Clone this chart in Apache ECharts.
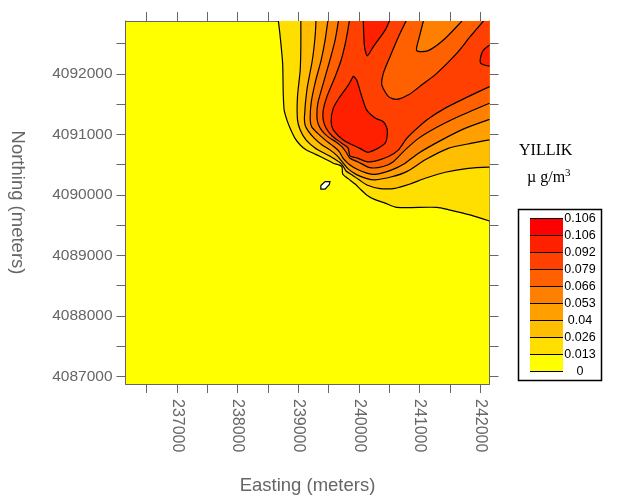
<!DOCTYPE html>
<html>
<head>
<meta charset="utf-8">
<title>YILLIK</title>
<style>
  html, body { margin: 0; padding: 0; background: #fff; }
  #char { width: 633px; height: 502px; }
</style>
<script src="https://cdn.jsdelivr.net/npm/echarts@6/dist/echarts.min.js"></script>
</head>
<body>
<div id="char"></div>
<script>
// axis ranges and ticks, metres
const eastMin = 236150
const eastMax = 242150
const northMin = 4086875
const northMax = 4092875
const eastTicks = [236500, 237000, 237500, 238000, 238500, 239000, 239500, 240000, 240500, 241000, 241500, 242000]
const eastLabels = [237000, 238000, 239000, 240000, 241000, 242000]
const northTicks = [4087000, 4087500, 4088000, 4088500, 4089000, 4089500, 4090000, 4090500, 4091000, 4091500, 4092000, 4092500]
const northLabels = [4087000, 4088000, 4089000, 4090000, 4091000, 4092000]

// contour lines, [easting, northing]
const level1 = [[238670,4092875],[238700,4092615],[238740,4092175],[238750,4091680],[238765,4091405],[238810,4091240],[238865,4091100],[238945,4090935],[239030,4090825],[239125,4090745],[239245,4090690],[239360,4090635],[239440,4090595],[239575,4090525],[239715,4090470],[239730,4090345],[239825,4090265],[239935,4090180],[240015,4090100],[240125,4090000],[240235,4089935],[240430,4089865],[240620,4089795],[241280,4089795],[241500,4089750],[241830,4089670],[242150,4089570]]
const level2 = [[239040,4092875],[239040,4092450],[239030,4092065],[238985,4091625],[238985,4091240],[239030,4091075],[239125,4090910],[239275,4090775],[239405,4090700],[239555,4090620],[239685,4090535],[239745,4090465],[239785,4090395],[239885,4090330],[240000,4090250],[240130,4090165],[240345,4090105],[240595,4090110],[240840,4090180],[241090,4090275],[241420,4090375],[241800,4090440],[242150,4090460]]
const level3 = [[239290,4092875],[239275,4092615],[239230,4092230],[239140,4091735],[239100,4091295],[239110,4091155],[239160,4091060],[239260,4090940],[239390,4090825],[239520,4090745],[239640,4090645],[239735,4090530],[239820,4090430],[239950,4090340],[240115,4090275],[240265,4090250],[240540,4090300],[240785,4090385],[241090,4090580],[241470,4090770],[241860,4090855],[242150,4090910]]
const level4 = [[239485,4092875],[239440,4092560],[239375,4092230],[239275,4091850],[239210,4091520],[239195,4091240],[239220,4091125],[239310,4091025],[239440,4090910],[239570,4090810],[239670,4090720],[239745,4090595],[239850,4090495],[239985,4090415],[240115,4090365],[240265,4090340],[240540,4090415],[240760,4090525],[240980,4090690],[241365,4090910],[241745,4091100],[242150,4091250]]
const level5 = [[239660,4092875],[239605,4092560],[239520,4092230],[239410,4091845],[239320,4091515],[239305,4091295],[239325,4091175],[239390,4091060],[239490,4090960],[239620,4090875],[239720,4090795],[239785,4090710],[239850,4090605],[239985,4090545],[240180,4090450],[240400,4090470],[240565,4090550],[240760,4090745],[240980,4090935],[241305,4091130],[241695,4091320],[242150,4091515]]
const level5Notch = [[241695,4092875],[241390,4092560],[241140,4092385],[240950,4092385],[240995,4092615],[241060,4092875]]
const level6 = [[239840,4092875],[239785,4092560],[239705,4092230],[239605,4091955],[239470,4091625],[239410,4091405],[239410,4091240],[239455,4091105],[239555,4090975],[239715,4090855],[239820,4090775],[239850,4090645],[239985,4090605],[240125,4090550],[240265,4090560],[240485,4090635],[240650,4090745],[240785,4090935],[240895,4091045],[241115,4091240],[241420,4091435],[241800,4091625],[242150,4091790]]
const level6Hole = [[242050,4092875],[241830,4092615],[241610,4092340],[241280,4092010],[241035,4091820],[240815,4091655],[240620,4091580],[240485,4091625],[240375,4091820],[240400,4092010],[240510,4092285],[240650,4092615],[240775,4092875]]
const level7Peak = [[239905,4091965],[239825,4091820],[239685,4091625],[239575,4091435],[239540,4091210],[239575,4091075],[239740,4090910],[240015,4090770],[240155,4090705],[240430,4090855],[240465,4091075],[240400,4091210],[240265,4091270],[240125,4091405],[240045,4091625],[239960,4091900]]
const level7Top = [[240070,4092875],[240090,4092450],[240135,4092300],[240235,4092450],[240430,4092725],[240500,4092875]]
const level7Right = [[242150,4092480],[242050,4092395],[242005,4092285],[242005,4092175],[242150,4092130]]
const sourceMark = [[239370,4090155],[239440,4090220],[239520,4090220],[239510,4090175],[239440,4090095],[239370,4090095]]

// legend, top to bottom
const legendLabels = ['0.106', '0.106', '0.092', '0.079', '0.066', '0.053', '0.04', '0.026', '0.013', '0']
const bandColors = ['#ff0000', '#ff2000', '#ff4000', '#ff6000', '#ff8000', '#ff9f00', '#ffbf00', '#ffdf00', '#ffff00']

const corner = [[eastMax, northMax]]
const contourFills = [
  { color: '#ffdf00', area: [...level1, ...corner], lines: [level1] },
  { color: '#ffbf00', area: [...level2, ...corner], lines: [level2] },
  { color: '#ff9f00', area: [...level3, ...corner], lines: [level3] },
  { color: '#ff8000', area: [...level4, ...corner], lines: [level4] },
  { color: '#ff6000', area: [...level5, ...corner, ...level5Notch], lines: [level5, level5Notch] },
  { color: '#ff4000', area: [...level6, ...corner, ...level6Hole], lines: [level6, level6Hole] },
  { color: '#ff2000', area: level7Peak, lines: [level7Peak.concat([level7Peak[0]])] },
  { color: '#ff2000', area: level7Top, lines: [level7Top] },
  { color: '#ff2000', area: level7Right, lines: [level7Right] },
  { color: '#ffffff', area: sourceMark, lines: [sourceMark.concat([sourceMark[0]])], sharp: true }
]

const gray = '#666666'
const labelFont = 'Arial, "Liberation Sans", sans-serif'
const titleFont = '"Liberation Serif", "Times New Roman", serif'

function renderContour(params, api) {
  const item = contourFills[params.dataIndex]
  const toPixels = (list) => list.map((p) => api.coord(p))
  const children = [{
    type: 'polygon',
    shape: { points: toPixels(item.area) },
    style: { fill: item.color }
  }]
  item.lines.forEach((line) => {
    children.push({
      type: 'polyline',
      shape: { points: toPixels(line), smooth: item.sharp ? 0 : 0.25 },
      style: { fill: 'none', stroke: '#000', lineWidth: 1.2 }
    })
  })
  return { type: 'group', children }
}

function renderLegendBand(params, api) {
  const i = params.dataIndex
  const pos = bandColors.length - 1 - i
  const a = api.coord([0, pos])
  const b = api.coord([1, pos + 1])
  const lineStyle = { stroke: '#000', lineWidth: 1 }
  return {
    type: 'group',
    children: [
      { type: 'rect', shape: { x: a[0], y: b[1], width: b[0] - a[0], height: a[1] - b[1] }, style: { fill: bandColors[i] } },
      { type: 'line', shape: { x1: a[0], y1: b[1], x2: b[0], y2: b[1] }, style: lineStyle },
      { type: 'line', shape: { x1: a[0], y1: a[1], x2: b[0], y2: a[1] }, style: lineStyle }
    ]
  }
}

const plotAxis = {
  gridIndex: 0,
  type: 'value',
  axisLine: { onZero: false, lineStyle: { color: gray } },
  splitLine: { show: false }
}

const myChart = echarts.init(document.getElementById('char'))
const option = {
  backgroundColor: '#fff',
  animation: false,
  grid: [
    { left: 125.5, top: 21, width: 364, height: 363, outerBoundsMode: 'none', show: true, backgroundColor: '#ffff00', borderWidth: 0 },
    { left: 530, top: 218.5, width: 33, height: 153, outerBoundsMode: 'none' }
  ],
  xAxis: [
    {
      ...plotAxis,
      position: 'bottom',
      min: eastMin,
      max: eastMax,
      name: 'Easting (meters)',
      nameLocation: 'middle',
      nameGap: 92,
      nameTextStyle: { color: gray, fontSize: 18.5, fontFamily: labelFont },
      axisTick: { length: 9, inside: false, lineStyle: { color: gray }, customValues: eastTicks },
      axisLabel: {
        rotate: -90,
        margin: 15,
        color: gray,
        fontSize: 16,
        fontFamily: labelFont,
        customValues: eastLabels,
        formatter: (v) => String(v)
      }
    },
    {
      ...plotAxis,
      position: 'top',
      min: eastMin,
      max: eastMax,
      axisTick: { length: 9, lineStyle: { color: gray }, customValues: eastTicks },
      axisLabel: { show: false }
    },
    { gridIndex: 1, type: 'value', min: 0, max: 1, show: false }
  ],
  yAxis: [
    {
      ...plotAxis,
      position: 'left',
      min: northMin,
      max: northMax,
      name: 'Northing (meters)',
      nameLocation: 'middle',
      nameRotate: -90,
      nameGap: 99,
      nameTextStyle: { color: gray, fontSize: 18.5, fontFamily: labelFont },
      axisTick: { length: 9, lineStyle: { color: gray }, customValues: northTicks },
      axisLabel: {
        margin: 13,
        color: gray,
        fontSize: 15.5,
        fontFamily: labelFont,
        customValues: northLabels,
        formatter: (v) => String(v)
      }
    },
    {
      ...plotAxis,
      position: 'right',
      min: northMin,
      max: northMax,
      axisTick: { length: 9, lineStyle: { color: gray }, customValues: northTicks },
      axisLabel: { show: false }
    },
    {
      gridIndex: 1,
      type: 'value',
      position: 'right',
      min: 0,
      max: 9,
      axisLine: { show: false },
      axisTick: { show: false },
      splitLine: { show: false },
      axisLabel: {
        align: 'center',
        margin: 17,
        color: '#000',
        fontSize: 12.5,
        fontFamily: labelFont,
        customValues: [0, 1, 2, 3, 4, 5, 6, 7, 8, 9],
        formatter: (v) => legendLabels[9 - v]
      }
    }
  ],
  series: [
    {
      type: 'custom',
      xAxisIndex: 0,
      yAxisIndex: 0,
      clip: true,
      silent: true,
      data: contourFills.map((c, i) => i),
      renderItem: renderContour
    },
    {
      type: 'custom',
      xAxisIndex: 2,
      yAxisIndex: 2,
      silent: true,
      data: bandColors.map((c, i) => i),
      renderItem: renderLegendBand
    }
  ],
  graphic: [
    { type: 'rect', shape: { x: 518.5, y: 209.5, width: 83, height: 171 }, style: { fill: 'none', stroke: '#000', lineWidth: 1.5 } },
    { type: 'text', left: 519, top: 143, style: { text: 'YILLIK', fill: '#000', font: '16px ' + titleFont } },
    {
      type: 'text',
      left: 527,
      top: 168,
      style: {
        text: '{unit|µ g/m}{sup|3}',
        rich: {
          unit: { fontSize: 16, fontFamily: titleFont, fill: '#000', lineHeight: 20 },
          sup: { fontSize: 11, fontFamily: titleFont, fill: '#000', lineHeight: 12, verticalAlign: 'top' }
        }
      }
    }
  ]
}
myChart.setOption(option)
</script>
</body>
</html>
